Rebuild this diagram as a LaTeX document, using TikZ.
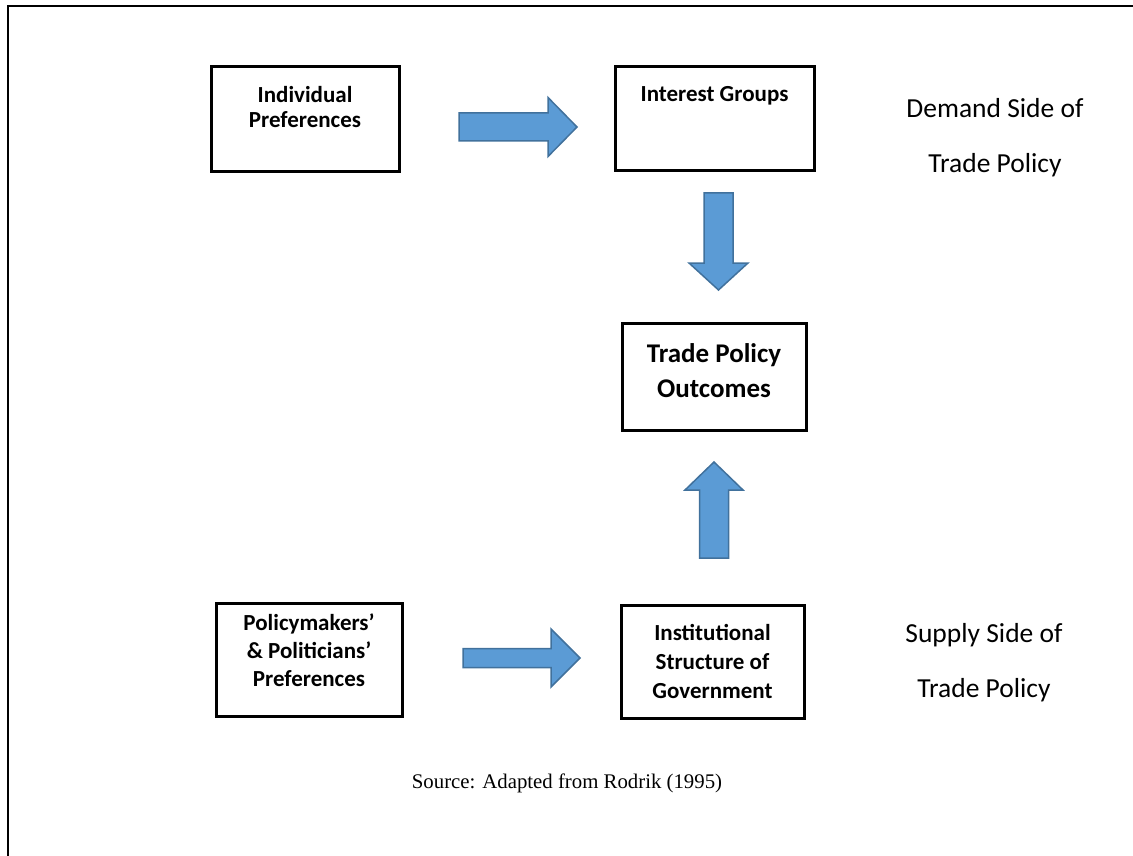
\documentclass[tikz,border=0pt]{standalone}
\usepackage{fontspec}
\setmainfont{Liberation Serif}
\newfontfamily\calibri{Carlito}
\usepackage{tikz}
\usetikzlibrary{calc}

\definecolor{arrowfill}{HTML}{5B9BD5}
\definecolor{arrowline}{HTML}{41719C}

% block arrow from #1 to #2: shaft half width #3, head half width #4, head length #5
\newcommand{\blockarrow}[5]{%
	\pgfpointdiff{\pgfpointanchor{#1}{center}}{\pgfpointanchor{#2}{center}}%
	\pgfgetlastxy{\arrdx}{\arrdy}%
	\pgfmathsetmacro{\arrlen}{veclen(\arrdx,\arrdy)}%
	\pgfmathsetmacro{\arrang}{atan2(\arrdy,\arrdx)}%
	\begin{scope}[shift={(#1)},rotate=\arrang]
		\draw[fatarrow] (0pt,-#3pt) -- ({\arrlen pt-#5pt},-#3pt) -- ({\arrlen pt-#5pt},-#4pt)
			-- (\arrlen pt,0pt) -- ({\arrlen pt-#5pt},#4pt) -- ({\arrlen pt-#5pt},#3pt)
			-- (0pt,#3pt) -- cycle;
	\end{scope}}

\begin{document}
\begin{tikzpicture}[x=1pt,y=-1pt,
		box/.style={draw,line width=3pt,inner sep=0pt},
		boxtext/.style={font=\calibri\bfseries\fontsize{23}{25}\selectfont,align=center,inner sep=0pt},
		sidetext/.style={font=\calibri\fontsize{27.5}{55}\selectfont,align=center,inner sep=0pt},
		fatarrow/.style={fill=arrowfill,draw=arrowline,line width=1.5pt,line join=miter}]
				\useasboundingbox (0,0) rectangle (1133,856);
				\draw[line width=2pt] (1133,6) -- (8,6) -- (8,856);
				
				% boxes
				\node[box,minimum width=188,minimum height=105] (indiv) at (305,119.5) {};
				\node[box,minimum width=199,minimum height=104] (groups) at (714.5,118.5) {};
				\node[box,minimum width=184,minimum height=107] (outcome) at (714,376.5) {};
				\node[box,minimum width=186,minimum height=113] (policy) at (309,659.5) {};
				\node[box,minimum width=183,minimum height=113] (inst) at (712.5,661.5) {};
				
				\node[boxtext] (indivT) at (305,107) {Individual\\Preferences};
				\node[boxtext] (groupsT) at (714.5,96) {Interest Groups};
				\node[boxtext,font=\calibri\bfseries\fontsize{27}{35}\selectfont] (outcomeT) at (714,371) {Trade Policy\\Outcomes};
				\node[boxtext,font=\calibri\bfseries\fontsize{23}{28}\selectfont] (policyT) at (309,650) {Policymakers’\\\& Politicians’\\Preferences};
				\node[boxtext,font=\calibri\bfseries\fontsize{23}{29}\selectfont] (instT) at (712.5,661.5) {Institutional\\Structure of\\Government};
				
				\node[sidetext] (demand) at (995,137.5) {Demand Side of\\Trade Policy};
				\node[sidetext] (supply) at (984,663) {Supply Side of\\Trade Policy};
				
				\node[font=\fontsize{20.8}{24}\selectfont] (source) at (567,783) {Source: Adapted from Rodrik (1995)};
				
				% arrow ends
				\coordinate (a1s) at (459,127);
				\coordinate (a1e) at (577,127);
				\coordinate (a2s) at (718.5,193);
				\coordinate (a2e) at (718.5,290);
				\coordinate (a3s) at (714,558);
				\coordinate (a3e) at (714,462);
				\coordinate (a4s) at (463,658);
				\coordinate (a4e) at (580,658);
				
				\blockarrow{a1s}{a1e}{14}{29.5}{29}
				\blockarrow{a2s}{a2e}{14.5}{29.5}{27}
				\blockarrow{a3s}{a3e}{14.5}{29}{28}
				\blockarrow{a4s}{a4e}{9.5}{29}{29}
			\end{tikzpicture}
\end{document}
